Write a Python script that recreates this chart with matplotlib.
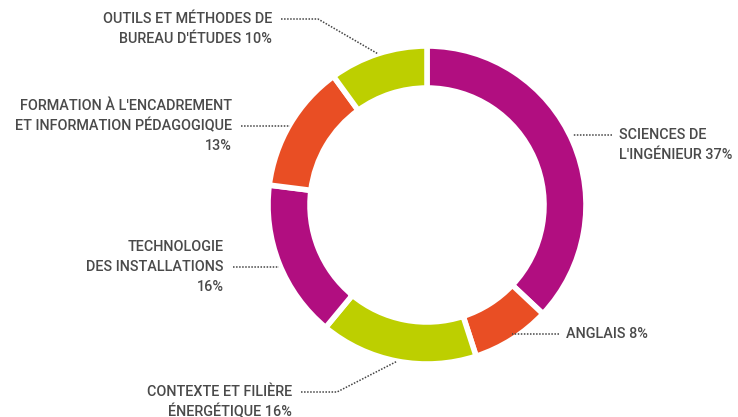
import numpy as np
import matplotlib
matplotlib.use("Agg")
from matplotlib import pyplot as plt

labels = ["SCIENCES DE\nL'INGÉNIEUR 37%", "ANGLAIS 8%", "CONTEXTE ET FILIÈRE\nÉNERGÉTIQUE 16%",
          "TECHNOLOGIE\nDES INSTALLATIONS\n16%", "FORMATION À L'ENCADREMENT\nET INFORMATION PÉDAGOGIQUE\n13%",
          "OUTILS ET MÉTHODES DE\nBUREAU D'ÉTUDES 10%"]
values = [37, 8, 16, 16, 13, 10]
colors = ["#B10E80", "#E94E24", "#BDCF00", "#B10E80", "#E94E24", "#BDCF00"]

W, H = 738, 417
cx, cy = 427, H - 205
R = 159
ring = 42
text_color = "#4a4a4a"

plt.rcParams['font.family'] = ['Roboto', 'DejaVu Sans']

fig = plt.figure(figsize=(W / 100, H / 100), dpi=100)
ax = fig.add_axes([0, 0, 1, 1])

wedges, _ = ax.pie(values, colors=colors, startangle=90, counterclock=False,
                   center=(cx, cy), radius=R,
                   wedgeprops=dict(width=ring, edgecolor="white", linewidth=4))

ax.set_xlim(0, W)
ax.set_ylim(0, H)
ax.set_aspect("equal")
ax.axis("off")

# label layout: (text x, leader y, alignment, elbow x or None, line index of leader)
layout = [
    (619, 135, "left", None, 0),
    (566, 334, "left", None, 0),
    (292, 392, "right", 337, 0),
    (224, 267, "right", None, 1),
    (232, 126, "right", None, 1),
    (272, 19, "right", 318, 0),
]

pitch = 20
for w, lab, (tx, ly, ha, elbow, idx) in zip(wedges, labels, layout):
    ang = np.deg2rad((w.theta1 + w.theta2) / 2)
    ex = cx + R * np.cos(ang)
    ey = cy + R * np.sin(ang)
    Ly = H - ly
    top = Ly + idx * pitch
    for i, line in enumerate(lab.split("\n")):
        ax.text(tx, top - i * pitch, line, ha=ha, va="center", fontsize=10.4,
                color=text_color, fontweight="medium")
    gap = 9 if ha == "right" else -7
    if elbow is None:
        xs = [tx + gap, ex]
        ys = [Ly, Ly]
    else:
        xs = [tx + gap, elbow, ex]
        ys = [Ly, Ly, ey]
    ax.plot(xs, ys, linestyle=(0, (1, 1)), color="#444444", linewidth=1.1)

fig.savefig("out.png", dpi=100)
